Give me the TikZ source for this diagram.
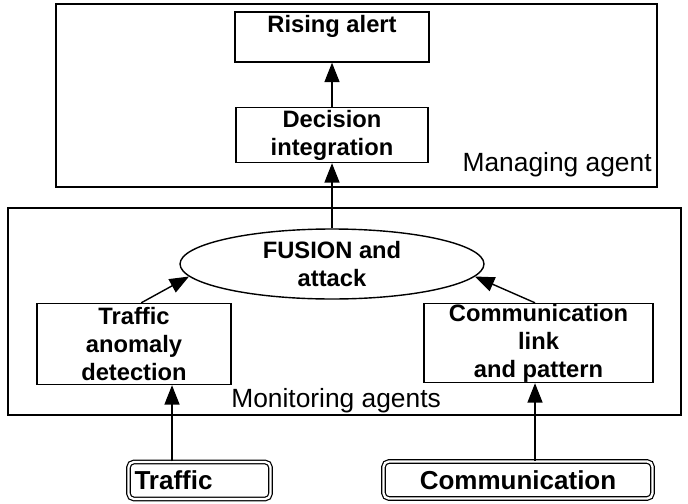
\documentclass[tikz,border=0pt]{standalone}
\usepackage{fontspec}
\setmainfont{Liberation Sans}
\usepackage{tikz}
\usetikzlibrary{shapes.geometric,arrows.meta,positioning}
\tikzset{
  arr/.style={-{Triangle[length=11pt,width=8.5pt]},line width=0.8pt},
  box/.style={rectangle,draw,line width=0.8pt,align=center,inner sep=0pt,
    font=\fontsize{13.5}{16}\selectfont\bfseries},
  cbox/.style={ellipse,draw,line width=0.8pt,align=center,inner sep=0pt,
    font=\fontsize{13.5}{16}\selectfont\bfseries},
  lyr/.style={rectangle,draw,line width=0.8pt,inner sep=0pt},
  src/.style={rectangle,draw,line width=0.7pt,double,double distance=1.3pt,
    rounded corners=3pt,minimum height=0.74cm,inner ysep=0pt,
    font=\fontsize{14.8}{17}\selectfont\bfseries},
  lbl/.style={inner sep=0pt,font=\fontsize{15}{18}\selectfont},
}
\begin{document}
\begin{tikzpicture}[x=0.02cm,y=-0.02cm]
\useasboundingbox (0,0) rectangle (688,503);

% layers
\node[lyr,minimum width=12.02cm,minimum height=3.66cm] (mgr) at (356.5,95.5) {};
\node[lyr,minimum width=13.46cm,minimum height=4.14cm] (mon) at (344.5,311.5) {};
\node[lbl,anchor=base east] (mgrl) at (652,172) {Managing agent};
\node[lbl,anchor=base west] (monl) at (231,407) {Monitoring agents};

% managing agent
\node[box,minimum width=3.88cm,minimum height=1.0cm,text height=0.42cm,text depth=0.58cm] (rise) at (332,37) {Rising alert};
\node[box,minimum width=3.84cm,minimum height=1.1cm] (dec) at (332,135) {Decision\\integration};

% monitoring agents
\node[cbox,minimum width=6.08cm,minimum height=1.4cm] (fus) at (332,264) {FUSION and\\attack};
\node[box,minimum width=3.88cm,minimum height=1.62cm] (ta) at (134,344) {Traffic\\anomaly\\detection};
\node[box,minimum width=4.58cm,minimum height=1.58cm] (cl) at (538.5,343) {Communication\\link\\and pattern};

% sources
\node[src,text width=2.6cm,align=left,inner xsep=0.12cm] (tb) at (199.5,480.5) {Traffic};
\node[src,minimum width=5.38cm,align=center] (cb) at (518,480) {Communication};

% arrows
\draw[arr] (dec.north) -- (rise.south);
\draw[arr] (fus.north) -- (dec.south);
\draw[arr] (ta.80) -- (fus.185);
\draw[arr] (cl.95) -- (fus.355);
\draw[arr] ([xshift=-0.55cm]tb.north) coordinate (t1) -- (t1 |- ta.south);
\draw[arr] ([xshift=0.34cm]cb.north) coordinate (c1) -- (c1 |- cl.south);
\end{tikzpicture}
\end{document}
